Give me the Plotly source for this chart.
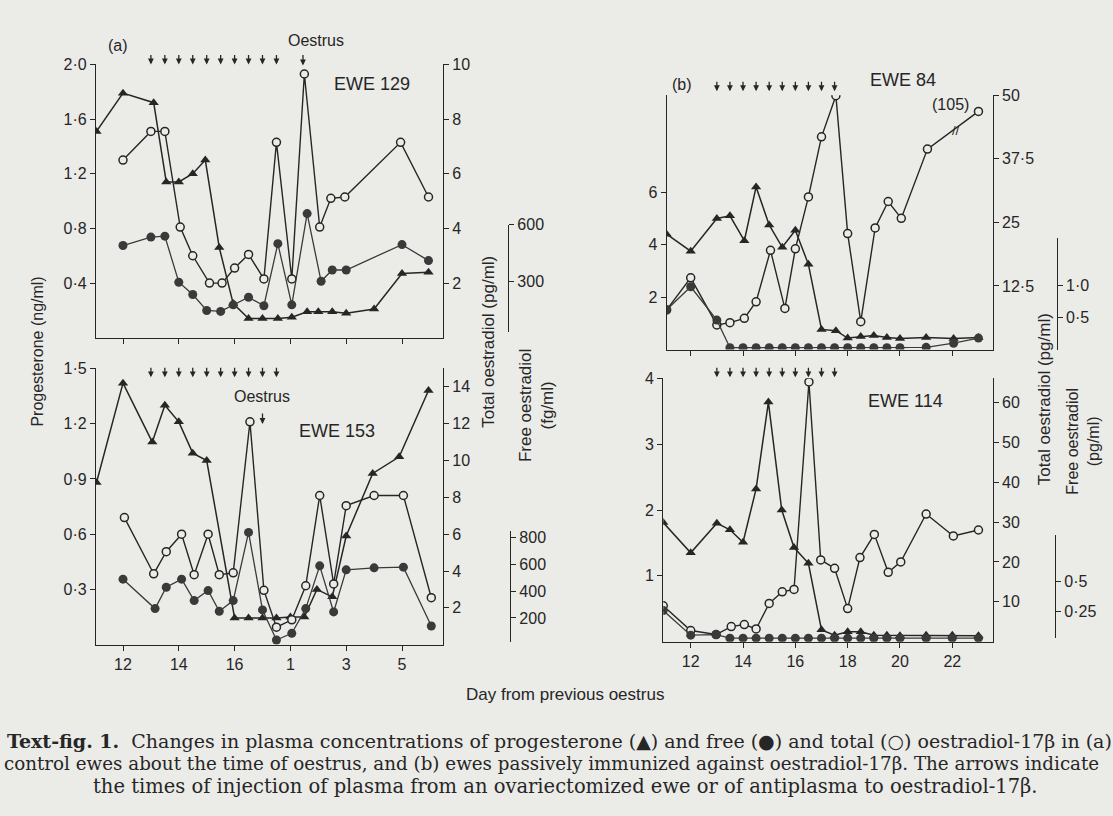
import plotly.graph_objects as go

W, H = 1113, 816
INK = "#262626"
FREE_INK = "#3a3a3a"
BG = "#ebebe8"
SANS = "Liberation Sans, Arial, sans-serif"
SERIF = "DejaVu Serif, serif"

# ---------------- data ----------------
inj_days = [13, 13.5, 14, 14.5, 15, 15.5, 16, 16.5, 17, 17.5]
oestrus_day_129 = 18.45
oestrus_day_153 = 17.0

x_ticks = [12, 14, 16, 18, 20, 22]
x_labels_a = ["12", "14", "16", "1", "3", "5"]
x_labels_b = ["12", "14", "16", "18", "20", "22"]

# (a) EWE 129
prog129_day = [11.05, 12, 13.1, 13.55, 14, 14.5, 14.95, 15.45, 15.95, 16.5, 17, 17.55, 18.05, 18.6, 19, 19.5, 20, 21, 22, 22.95]
prog129 = [1.51, 1.79, 1.72, 1.14, 1.14, 1.20, 1.30, 0.66, 0.25, 0.14, 0.14, 0.14, 0.15, 0.19, 0.19, 0.19, 0.18, 0.21, 0.47, 0.48]
tot129_day = [12, 13, 13.5, 14.05, 14.5, 15.1, 15.55, 16, 16.5, 17.05, 17.5, 18.05, 18.5, 19.05, 19.45, 19.95, 21.95, 22.95]
tot129 = [6.5, 7.55, 7.55, 4.05, 3.0, 2.0, 2.0, 2.55, 3.05, 2.15, 7.15, 2.15, 9.65, 4.05, 5.1, 5.15, 7.15, 5.15]
free129_day = [12, 13, 13.5, 14, 14.5, 15, 15.5, 15.95, 16.5, 17.05, 17.55, 18.05, 18.6, 19.1, 19.5, 20, 22, 22.95]
free129 = [490, 535, 540, 295, 230, 145, 140, 175, 215, 170, 500, 175, 660, 300, 360, 360, 495, 410]

# (a) EWE 153
prog153_day = [11.05, 12, 13.05, 13.5, 14, 14.5, 15, 16, 16.5, 17, 17.5, 18, 18.5, 18.95, 19.5, 20, 20.95, 21.9, 22.95]
prog153 = [0.88, 1.42, 1.10, 1.30, 1.21, 1.04, 1.00, 0.145, 0.145, 0.145, 0.145, 0.15, 0.15, 0.30, 0.26, 0.59, 0.93, 1.02, 1.38]
tot153_day = [12.05, 13.1, 13.55, 14.1, 14.55, 15.05, 15.45, 15.95, 16.55, 17.05, 17.5, 18.05, 18.55, 19.05, 19.55, 20, 21, 22.05, 23.05]
tot153 = [6.9, 3.85, 5.05, 6.0, 3.8, 6.0, 3.8, 3.9, 12.1, 2.95, 0.95, 1.35, 3.2, 8.1, 3.3, 7.55, 8.1, 8.1, 2.55]
free153_day = [12, 13.15, 13.55, 14.1, 14.55, 15.05, 15.45, 15.95, 16.5, 17, 17.5, 18.05, 18.55, 19.05, 19.55, 20, 21, 22.05, 23.05]
free153 = [490, 270, 430, 490, 330, 405, 250, 330, 840, 260, 35, 85, 270, 590, 245, 560, 575, 580, 140]

# (b) EWE 84
prog84_day = [11.08, 12, 13, 13.5, 14.05, 14.5, 15, 15.5, 16, 16.5, 17, 17.55, 18, 18.5, 19, 19.5, 20, 21, 22.05, 23]
prog84 = [4.4, 3.75, 5.0, 5.1, 4.15, 6.2, 4.75, 3.9, 4.55, 3.25, 0.77, 0.72, 0.44, 0.5, 0.54, 0.46, 0.42, 0.46, 0.42, 0.46]
tot84_day = [11.08, 12, 13, 13.5, 14.05, 14.5, 15.05, 15.6, 16, 16.5, 17, 17.55, 18, 18.5, 19.05, 19.55, 20.05, 21.05, 23]
tot84 = [7.8, 14.1, 4.85, 5.3, 6.15, 9.4, 19.5, 8.1, 19.8, 30.0, 41.8, 49.9, 22.8, 5.5, 23.9, 29.1, 25.8, 39.4, 46.8]
tot84_last_label = "(105)"
free84_day = [11.08, 12, 13, 13.5, 14, 14.5, 15, 15.5, 16, 16.5, 17, 17.5, 18, 18.5, 19, 19.5, 20, 21, 22.05, 23]
free84 = [0.62, 0.98, 0.46, 0.03, 0.03, 0.03, 0.03, 0.03, 0.03, 0.03, 0.03, 0.03, 0.03, 0.03, 0.03, 0.03, 0.03, 0.035, 0.10, 0.18]

# (b) EWE 114
prog114_day = [10.95, 12, 13, 13.5, 14, 14.5, 14.97, 15.48, 15.95, 16.5, 17, 17.5, 18, 18.5, 19, 19.5, 20, 21, 22, 23]
prog114 = [1.81, 1.35, 1.80, 1.70, 1.51, 2.32, 3.64, 2.0, 1.43, 1.19, 0.18, 0.10, 0.15, 0.15, 0.10, 0.10, 0.09, 0.10, 0.10, 0.09]
tot114_day = [10.95, 12, 12.97, 13.55, 14.05, 14.5, 15, 15.5, 15.95, 16.52, 16.97, 17.5, 18, 18.47, 19.02, 19.55, 20.03, 21, 22.04, 23]
tot114 = [9.0, 2.8, 1.8, 3.8, 4.3, 3.2, 9.6, 12.5, 13.1, 65.1, 20.5, 18.4, 8.3, 21.1, 26.9, 17.4, 20.0, 32.0, 26.5, 28.0]
free114_day = [10.95, 12, 12.97, 13.5, 14, 14.5, 15, 15.5, 16, 16.5, 17, 17.5, 18, 18.5, 19, 19.5, 20, 21, 22, 23]
free114 = [0.26, 0.055, 0.06, 0.03, 0.03, 0.03, 0.03, 0.03, 0.03, 0.03, 0.03, 0.03, 0.03, 0.03, 0.03, 0.03, 0.03, 0.03, 0.03, 0.03]

# axis ticks
prog_ticks_129 = [0.4, 0.8, 1.2, 1.6, 2.0]
prog_labels_129 = ["0·4", "0·8", "1·2", "1·6", "2·0"]
tot_ticks_129 = [2, 4, 6, 8, 10]
tot_labels_129 = ["2", "4", "6", "8", "10"]
free_ticks_129 = [300, 600]
free_labels_129 = ["300", "600"]

prog_ticks_153 = [0.3, 0.6, 0.9, 1.2, 1.5]
prog_labels_153 = ["0·3", "0·6", "0·9", "1·2", "1·5"]
tot_ticks_153 = [2, 4, 6, 8, 10, 12, 14]
tot_labels_153 = ["2", "4", "6", "8", "10", "12", "14"]
free_ticks_153 = [200, 400, 600, 800]
free_labels_153 = ["200", "400", "600", "800"]

prog_ticks_84 = [2, 4, 6]
prog_labels_84 = ["2", "4", "6"]
tot_ticks_84 = [12.5, 25, 37.5, 50]
tot_labels_84 = ["12·5", "25", "37·5", "50"]
free_ticks_84 = [0.5, 1.0]
free_labels_84 = ["0·5", "1·0"]

prog_ticks_114 = [1, 2, 3, 4]
prog_labels_114 = ["1", "2", "3", "4"]
tot_ticks_114 = [10, 20, 30, 40, 50, 60]
tot_labels_114 = ["10", "20", "30", "40", "50", "60"]
free_ticks_114 = [0.25, 0.5]
free_labels_114 = ["0·25", "0·5"]

# ---------------- geometry (pixels) ----------------
panels = [
    dict(prog=(prog129_day, prog129), tot=(tot129_day, tot129), free=(free129_day, free129),
         px=(96, 443), py=(57, 333), p12=123, ppd=27.9,
         prog_top=2.0, tot_top=10.0, free_top=276 / 0.19,
         prog_t=(prog_ticks_129, prog_labels_129), tot_t=(tot_ticks_129, tot_labels_129),
         free_t=(free_ticks_129, free_labels_129),
         deco_x=508, deco_py=(219, 327), deco_rng=(6 / 0.19, 114 / 0.19),
         xlab=None, arrow_tip=57),
    dict(prog=(prog153_day, prog153), tot=(tot153_day, tot153), free=(free153_day, free153),
         px=(96, 443), py=(364, 643), p12=123, ppd=27.9,
         prog_top=1.5, tot_top=279 / 18.6, free_top=279 / 0.135,
         prog_t=(prog_ticks_153, prog_labels_153), tot_t=(tot_ticks_153, tot_labels_153),
         free_t=(free_ticks_153, free_labels_153),
         deco_x=510, deco_py=(528, 640), deco_rng=(3 / 0.135, 115 / 0.135),
         xlab=x_labels_a, arrow_tip=373),
    dict(prog=(prog84_day, prog84), tot=(tot84_day, tot84), free=(free84_day, free84),
         px=(666.7, 992.7), py=(88, 345), p12=690.7, ppd=26.16,
         prog_top=257 / 26.5, tot_top=50.0, free_top=257 / 64.8,
         prog_t=(prog_ticks_84, prog_labels_84), tot_t=(tot_ticks_84, tot_labels_84),
         free_t=(free_ticks_84, free_labels_84),
         deco_x=1056.7, deco_py=(232.7, 345), deco_rng=(0, 112.3 / 64.8),
         xlab=None, arrow_tip=84),
    dict(prog=(prog114_day, prog114), tot=(tot114_day, tot114), free=(free114_day, free114),
         px=(663.3, 992.7), py=(374, 640), p12=690.7, ppd=26.16,
         prog_top=4.0, tot_top=266 / 4.03, free_top=266 / 121,
         prog_t=(prog_ticks_114, prog_labels_114), tot_t=(tot_ticks_114, tot_labels_114),
         free_t=(free_ticks_114, free_labels_114),
         deco_x=1055, deco_py=(532.7, 636.7), deco_rng=(3.3 / 121, 107.3 / 121),
         xlab=x_labels_b, arrow_tip=373),
]


def ax_key(prefix, n):
    return prefix + "axis" + ("" if n == 1 else str(n))


def ax_id(prefix, n):
    return prefix + ("" if n == 1 else str(n))


def fx(px):
    return px / W


def fy(py):
    return 1 - py / H


tickfont = dict(family=SANS, size=16, color=INK)
axis_common = dict(showline=True, linecolor=INK, linewidth=1.3, ticks="outside", ticklen=5,
                   tickwidth=1.2, tickcolor=INK, showgrid=False, zeroline=False,
                   tickfont=tickfont, fixedrange=True)

fig = go.Figure()
layout = {}
annotations = []


def down_arrow(x, xref, tip_py, length=11):
    annotations.append(dict(text="", x=x, y=fy(tip_py), xref=xref, yref="paper",
                            showarrow=True, ax=0, ay=-length, axref="pixel", ayref="pixel",
                            arrowhead=2, arrowsize=0.9, arrowwidth=1.3, arrowcolor=INK,
                            standoff=0, startstandoff=0))


for i, p in enumerate(panels):
    xn = i + 1
    yb = 4 * i + 1
    xid = ax_id("x", xn)
    yp, yt, yf, yd = [ax_id("y", yb + k) for k in range(4)]
    x0, x1 = p["px"]
    top, bot = p["py"]
    xr = [12 + (x0 - p["p12"]) / p["ppd"], 12 + (x1 - p["p12"]) / p["ppd"]]
    dom_x = [fx(x0), fx(x1)]
    dom_y = [fy(bot), fy(top)]

    layout[ax_key("x", xn)] = dict(axis_common, domain=dom_x, range=xr, anchor=yp,
                                   tickvals=x_ticks,
                                   ticktext=p["xlab"] if p["xlab"] else x_labels_b,
                                   showticklabels=p["xlab"] is not None)
    layout[ax_key("y", yb)] = dict(axis_common, domain=dom_y, range=[0, p["prog_top"]],
                                   anchor=xid, side="left",
                                   tickvals=p["prog_t"][0], ticktext=p["prog_t"][1])
    layout[ax_key("y", yb + 1)] = dict(axis_common, overlaying=yp, anchor=xid, side="right",
                                       range=[0, p["tot_top"]],
                                       tickvals=p["tot_t"][0], ticktext=p["tot_t"][1])
    layout[ax_key("y", yb + 2)] = dict(overlaying=yp, anchor=xid, range=[0, p["free_top"]],
                                       visible=False, fixedrange=True)
    dt, db = p["deco_py"]
    layout[ax_key("y", yb + 3)] = dict(axis_common, domain=[fy(db), fy(dt)], anchor="free",
                                       position=fx(p["deco_x"]), side="right",
                                       range=list(p["deco_rng"]),
                                       tickvals=p["free_t"][0], ticktext=p["free_t"][1])

    # decorative trace so the short free-oestradiol axis is drawn
    fig.add_trace(go.Scatter(x=[None], y=[None], xaxis=xid, yaxis=yd, showlegend=False,
                             hoverinfo="skip"))
    # progesterone (triangles)
    fig.add_trace(go.Scatter(x=p["prog"][0], y=p["prog"][1], xaxis=xid, yaxis=yp,
                             mode="lines+markers", showlegend=False,
                             line=dict(color=INK, width=1.5),
                             marker=dict(symbol="triangle-up", size=9, color=INK)))
    # total oestradiol (open circles)
    fig.add_trace(go.Scatter(x=p["tot"][0], y=p["tot"][1], xaxis=xid, yaxis=yt,
                             mode="lines+markers", showlegend=False,
                             line=dict(color=INK, width=1.4),
                             marker=dict(symbol="circle", size=8, color=BG,
                                         line=dict(color=INK, width=1.5))))
    # free oestradiol (filled circles)
    fig.add_trace(go.Scatter(x=p["free"][0], y=p["free"][1], xaxis=xid, yaxis=yf,
                             mode="lines+markers", showlegend=False,
                             line=dict(color=FREE_INK, width=1.3),
                             marker=dict(symbol="circle", size=9, color=FREE_INK)))

    # injection arrows
    for d in inj_days:
        down_arrow(d, xid, p["arrow_tip"])


def txt(text, x, y, size=16, family=SANS, angle=0, xanchor="center", align="center",
        xref="paper", color=INK):
    annotations.append(dict(text=text, x=x if xref != "paper" else fx(x), y=fy(y),
                            xref=xref, yref="paper", showarrow=False,
                            xanchor=xanchor, yanchor="middle", textangle=angle, align=align,
                            font=dict(family=family, size=size, color=color)))


# oestrus markers
txt("Oestrus", 316, 33, size=16)
down_arrow(oestrus_day_129, "x", 58, length=12)
txt("Oestrus", 262, 392, size=16)
down_arrow(oestrus_day_153, "x2", 420, length=12)

# panel labels
txt("(a)", 118, 38, size=16)
txt("(b)", 682, 77, size=16)
txt("EWE 129", 372, 77, size=18)
txt("EWE 153", 337, 427, size=18)
txt("EWE 84", 903, 73, size=18)
txt("EWE 114", 905, 397, size=18)
txt(tot84_last_label, 950, 97, size=16)
txt("//", 956, 124, size=13)

# axis titles
txt("Progesterone (ng/ml)", 38, 347, size=16, angle=-90)
txt("Total oestradiol (pg/ml)", 489, 337, size=17, angle=-90)
txt("Free oestradiol<br>(fg/ml)", 536, 402, size=17, angle=-90)
txt("Total oestradiol (pg/ml)", 1044, 395, size=17, angle=-90)
txt("Free oestradiol<br>(pg/ml)", 1083, 438, size=16, angle=-90)
txt("Day from previous oestrus", 565, 693, size=17)

# caption
txt("<b>Text-fig. 1.</b>  Changes in plasma concentrations of progesterone (▲) and free (●) and total (○) oestradiol-17β in (a)",
    5, 740, size=19, family=SERIF, xanchor="left", align="left")
txt("control ewes about the time of oestrus, and (b) ewes passively immunized against oestradiol-17β. The arrows indicate",
    2, 763, size=18.3, family=SERIF, xanchor="left", align="left")
txt("the times of injection of plasma from an ovariectomized ewe or of antiplasma to oestradiol-17β.",
    565, 786, size=19.5, family=SERIF)

layout.update(dict(width=W, height=H, margin=dict(l=0, r=0, t=0, b=0),
                   paper_bgcolor=BG, plot_bgcolor="rgba(0,0,0,0)", showlegend=False,
                   annotations=annotations, hovermode=False))
fig.update_layout(**layout)
fig.write_html("out.html", config={"displayModeBar": False},
               post_script="document.body.style.margin='0';document.body.style.background='%s';" % BG)
